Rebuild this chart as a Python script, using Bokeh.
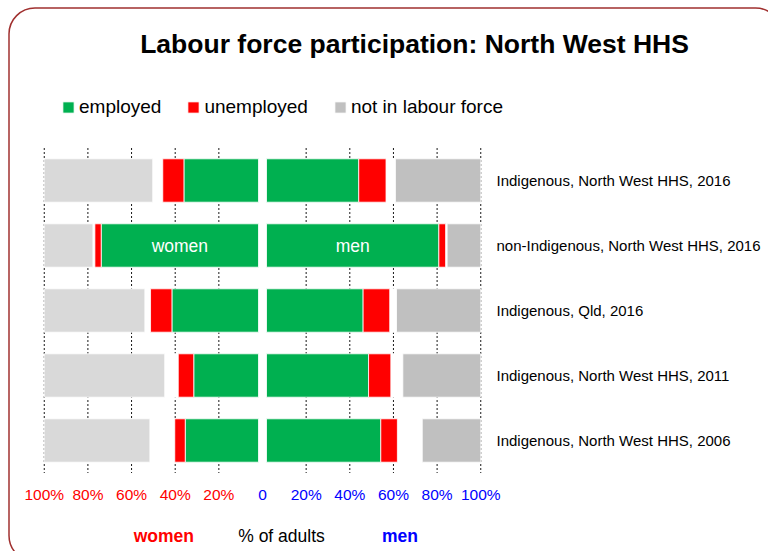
from bokeh.plotting import figure
from bokeh.models import Range1d, ColumnDataSource, Legend, LegendItem
from bokeh.core.properties import value
from bokeh.embed import file_html
from bokeh.resources import INLINE

# ---------------- data ----------------
categories = [
    "Indigenous, North West HHS, 2016",
    "non-Indigenous, North West HHS, 2016",
    "Indigenous, Qld, 2016",
    "Indigenous, North West HHS, 2011",
    "Indigenous, North West HHS, 2006",
]
women_employed = [36.0, 73.9, 41.5, 31.5, 35.4]
women_unemployed = [9.7, 2.9, 9.8, 7.1, 4.8]
women_not_in_lf = [49.7, 22.3, 46.1, 55.2, 48.4]
men_employed = [44.1, 80.8, 46.1, 48.6, 54.2]
men_unemployed = [12.5, 3.1, 12.2, 10.2, 7.6]
men_not_in_lf = [39.1, 15.4, 38.6, 35.7, 26.8]
tick_values = [-100, -80, -60, -40, -20, 0, 20, 40, 60, 80, 100]
tick_labels = ["100%", "80%", "60%", "40%", "20%", "0", "20%", "40%", "60%", "80%", "100%"]
series_names = ["employed", "unemployed", "not in labour force"]
title_text = "Labour force participation: North West HHS"
bottom_labels = ["women", "% of adults", "men"]

# ---------------- layout helpers (canvas px -> data units) ----------------
W, H = 768, 551
ZERO_PX, PX_PER_PCT = 262.0, 2.1825
ROW0_PX, ROW_PX = 180.0, 65.0


def dx(px):
    return (px - ZERO_PX) / PX_PER_PCT


def dy(py):
    return (py - ROW0_PX) / ROW_PX


GAP = 4.0 / PX_PER_PCT
BAR_H = 43.4 / ROW_PX

GREEN, RED = "#00B050", "#FF0000"
GREY_W, GREY_M = "#D9D9D9", "#C0C0C0"
FONT = value("Liberation Sans")

p = figure(width=W, height=H, output_backend="svg", toolbar_location=None,
           x_range=Range1d(dx(0), dx(W)), y_range=Range1d(dy(H), dy(0)),
           x_axis_location=None, y_axis_location=None, min_border=0)
p.outline_line_color = None
p.background_fill_color = "white"
p.border_fill_color = "white"
p.grid.visible = False

rows = list(range(len(categories)))
n = len(rows)

# gridlines (dashed), only non-zero ticks
grid_x = [t for t in tick_values if t != 0]
p.segment(x0=grid_x, x1=grid_x, y0=[-0.5] * len(grid_x), y1=[n - 0.5] * len(grid_x),
          line_color="black", line_dash="2 2", line_width=1, line_alpha=0.9)


def build(emp, une, nilf, sign):
    e_in = [sign * GAP for _ in emp]
    e_out = [sign * v for v in emp]
    u_out = [sign * (a + b) for a, b in zip(emp, une)]
    n_in = [sign * (100 - c) for c in nilf]
    n_out = [sign * 100 for _ in nilf]
    return e_in, e_out, u_out, n_in, n_out


for emp, une, nilf, sign, grey in [
    (women_employed, women_unemployed, women_not_in_lf, -1, GREY_W),
    (men_employed, men_unemployed, men_not_in_lf, 1, GREY_M),
]:
    e_in, e_out, u_out, n_in, n_out = build(emp, une, nilf, sign)
    src = ColumnDataSource(dict(y=rows, e_in=e_in, e_out=e_out, u_out=u_out,
                                n_in=n_in, n_out=n_out))
    # not stated (blank space) hides gridlines
    p.hbar(y="y", left="u_out", right="n_in", height=BAR_H, source=src,
           fill_color="white", line_color="white")
    r_e = p.hbar(y="y", left="e_in", right="e_out", height=BAR_H, source=src,
                 fill_color=GREEN, line_color="white", line_width=0.8)
    r_u = p.hbar(y="y", left="e_out", right="u_out", height=BAR_H, source=src,
                 fill_color=RED, line_color="white", line_width=0.8)
    r_n = p.hbar(y="y", left="n_in", right="n_out", height=BAR_H, source=src,
                 fill_color=grey, line_color="white", line_width=0.8)
    if sign == 1:
        legend_renderers = [r_e, r_u, r_n]

# labels inside the non-Indigenous employed bars
idx = 1
p.text(x=[-(GAP + women_employed[idx]) / 2, (GAP + men_employed[idx]) / 2],
       y=[rows[idx], rows[idx]], text=["women", "men"],
       text_align="center", text_baseline="middle", text_color="white",
       text_font=FONT, text_font_size=value("17.5px"))

# category labels on the right
p.text(x=[dx(496)] * n, y=rows, text=categories, text_align="left",
       text_baseline="middle", text_color="black", text_font=FONT,
       text_font_size=value("15px"))

# tick labels
tick_colors = ["#FF0000" if t < 0 else "#0000FF" for t in tick_values]
p.text(x=tick_values, y=[dy(494)] * len(tick_values), text=tick_labels,
       text_color=tick_colors, text_align="center", text_baseline="middle",
       text_font=FONT, text_font_size=value("15.5px"))

# axis titles
p.text(x=[dx(163.3), dx(399.5)], y=[dy(535)] * 2, text=[bottom_labels[0], bottom_labels[2]],
       text_color=["#FF0000", "#0000FF"], text_align="center", text_baseline="middle",
       text_font=FONT, text_font_size=value("17.5px"), text_font_style="bold")
p.text(x=[dx(281)], y=[dy(535)], text=[bottom_labels[1]], text_color="black",
       text_align="center", text_baseline="middle", text_font=FONT,
       text_font_size=value("17.5px"))

# title
p.text(x=[dx(414)], y=[dy(43)], text=[title_text], text_color="black",
       text_align="center", text_baseline="middle", text_font=FONT,
       text_font_size=value("26.5px"), text_font_style="bold")

# legend
legend = Legend(items=[LegendItem(label=s, renderers=[r]) for s, r in zip(series_names, legend_renderers)],
                orientation="horizontal", location=(61, 433), margin=0, padding=0,
                spacing=25, label_standoff=4, glyph_width=14, glyph_height=14,
                label_text_font="Liberation Sans", label_text_font_size="19px",
                label_text_color="black", border_line_color=None,
                background_fill_alpha=0)
p.add_layout(legend)

# rounded chart border
p.quad(left=[dx(8.5)], right=[dx(781)], top=[dy(7.5)], bottom=[dy(561)],
       fill_color=None, line_color="#A0302F", line_width=1.5, border_radius=26)

open("out.html", "w").write(file_html(p, INLINE))
